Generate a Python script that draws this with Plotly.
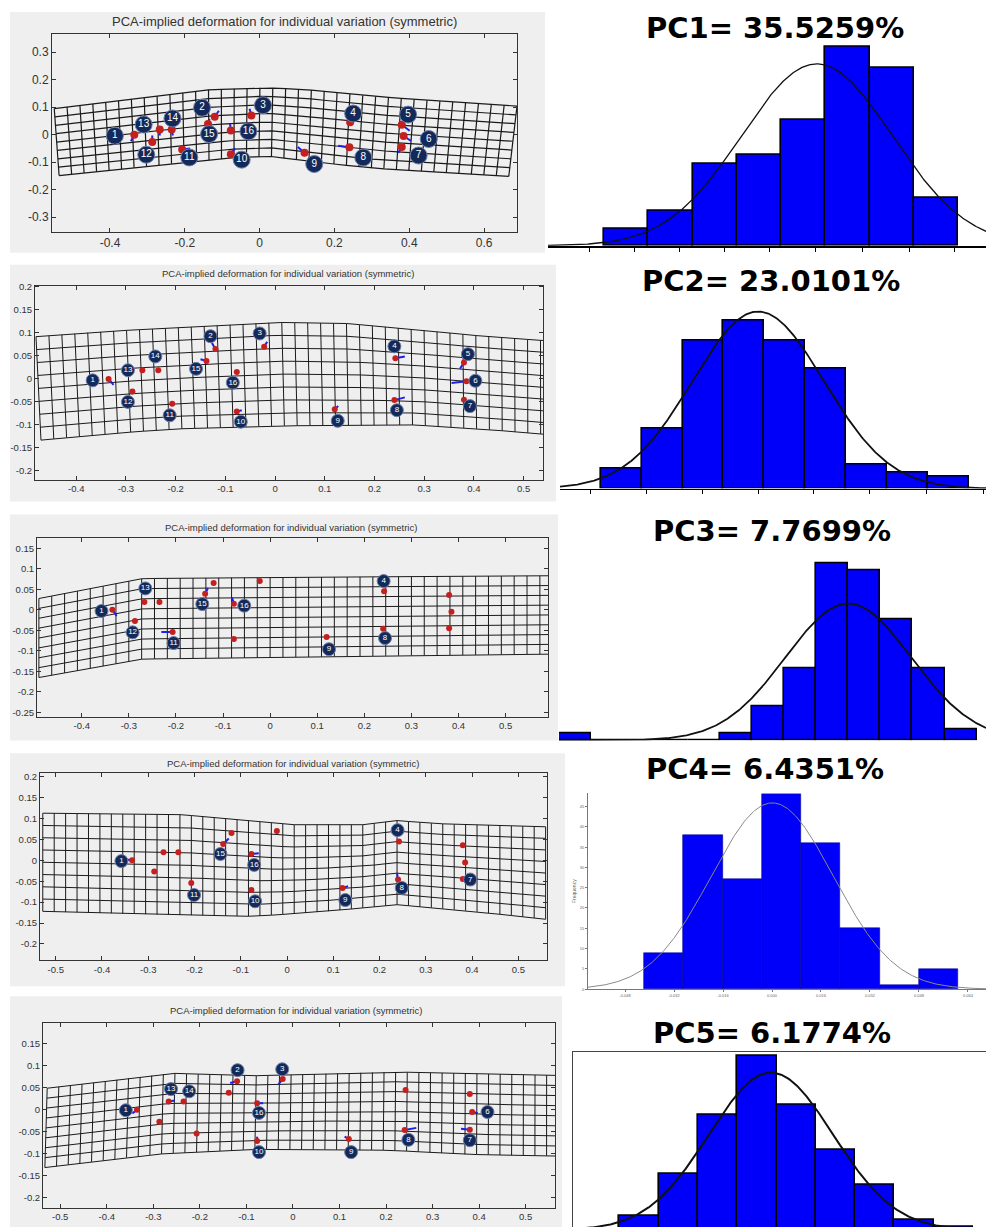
import numpy as np
import plotly.graph_objects as go

W, H = 986, 1229

# ---------------- shared data ----------------
panel_title = "PCA-implied deformation for individual variation (symmetric)"
pc_titles = ["PC1= 35.5259%", "PC2= 23.0101%", "PC3= 7.7699%", "PC4= 6.4351%", "PC5= 6.1774%"]

# consensus landmark configuration (16 landmarks)
landmark_ids = [str(i) for i in range(1, 17)]
landmark_x = [-0.335, -0.12, -0.022, 0.242, 0.38, 0.385, 0.38, 0.24, 0.12, -0.077, -0.207, -0.287, -0.267, -0.235, -0.138, -0.077]
landmark_y = [0.0, 0.065, 0.07, 0.045, 0.036, -0.005, -0.045, -0.046, -0.066, -0.071, -0.054, -0.027, 0.019, 0.019, 0.039, 0.015]

# ---------------- PC1 deformation panel ----------------
pc1_arrow_dx = [-0.009, 0.011, -0.005, 0, 0.021, 0.02, -0.009, -0.03, -0.018, 0.011, 0.021, 0, 0, 0.003, 0.004, -0.002]
pc1_arrow_dy = [-0.024, 0.022, 0.024, 0, -0.022, -0.018, -0.021, 0.006, 0.021, 0.022, 0.004, 0.024, -0.022, -0.022, 0.018, 0.024]
pc1_label_ids = [str(i) for i in range(1, 17)]
pc1_label_x = [-0.387, -0.154, 0.009, 0.250, 0.397, 0.452, 0.425, 0.277, 0.146, -0.048, -0.188, -0.303, -0.310, -0.233, -0.135, -0.030]
pc1_label_y = [-0.004, 0.098, 0.107, 0.077, 0.073, -0.016, -0.076, -0.083, -0.107, -0.091, -0.083, -0.073, 0.037, 0.059, 0.002, 0.012]
pc1_top_x = [-0.549, -0.14, 0.011, 0.119, 0.3, 0.48, 0.688]
pc1_top_y = [0.095, 0.163, 0.171, 0.165, 0.140, 0.122, 0.104]
pc1_bot_x = [-0.536, -0.242, -0.061, 0.029, 0.119, 0.3, 0.666]
pc1_bot_y = [-0.149, -0.107, -0.083, -0.079, -0.095, -0.122, -0.152]

# ---------------- PC2 deformation panel ----------------
pc2_arrow_dx = [0.010, -0.007, 0.006, 0.019, -0.008, -0.030, 0, 0.021, 0.007, 0.010, 0, 0, 0, 0, -0.012, 0]
pc2_arrow_dy = [-0.013, 0.013, 0.011, 0.004, -0.014, -0.004, 0, 0.006, 0.007, 0.003, 0, 0, 0, 0, 0.004, 0]
pc2_label_ids = [str(i) for i in range(1, 17)]
pc2_label_x = [-0.367, -0.130, -0.031, 0.240, 0.388, 0.403, 0.392, 0.245, 0.126, -0.069, -0.212, -0.296, -0.296, -0.241, -0.159, -0.085]
pc2_label_y = [-0.003, 0.093, 0.099, 0.071, 0.054, -0.004, -0.059, -0.068, -0.091, -0.093, -0.079, -0.050, 0.019, 0.049, 0.022, -0.008]
pc2_top_x = [-0.481, -0.346, -0.207, 0.0, 0.139, 0.278, 0.417, 0.56]
pc2_top_y = [0.092, 0.103, 0.111, 0.123, 0.121, 0.108, 0.093, 0.082]
pc2_bot_x = [-0.471, -0.346, -0.207, 0.0, 0.278, 0.417, 0.56]
pc2_bot_y = [-0.133, -0.12, -0.109, -0.102, -0.1, -0.109, -0.122]

# ---------------- PC3 deformation panel ----------------
pc3_arrow_dx = [0.009, 0, 0, 0, 0, 0, 0, 0, 0.003, 0, -0.024, 0, 0, 0, 0.006, -0.004]
pc3_arrow_dy = [-0.015, 0, 0, 0, 0, 0, 0, 0, 0.004, 0, 0, 0, 0, 0, 0.014, 0.015]
pc3_label_ids = ["1", "4", "8", "9", "11", "12", "13", "15", "16"]
pc3_label_x = [-0.358, 0.241, 0.244, 0.125, -0.205, -0.292, -0.265, -0.144, -0.055]
pc3_label_y = [-0.003, 0.070, -0.069, -0.096, -0.081, -0.055, 0.052, 0.014, 0.010]
pc3_top_x = [-0.491, -0.271, -0.119, 0.185, 0.6]
pc3_top_y = [0.0275, 0.076, 0.078, 0.080, 0.083]
pc3_bot_x = [-0.491, -0.271, -0.195, 0.033, 0.26, 0.6]
pc3_bot_y = [-0.165, -0.12, -0.119, -0.116, -0.112, -0.108]

# ---------------- PC4 deformation panel ----------------
pc4_arrow_dx = [-0.014, 0, 0, 0, 0, 0, 0, -0.002, 0.012, -0.006, 0, 0, 0, 0, 0.012, 0.016]
pc4_arrow_dy = [0.002, 0, 0, 0, 0, 0, 0, 0.014, 0.004, -0.004, 0, 0, 0, 0, 0.013, 0.002]
pc4_label_ids = ["1", "4", "7", "8", "9", "10", "11", "15", "16"]
pc4_label_x = [-0.358, 0.239, 0.396, 0.248, 0.126, -0.069, -0.201, -0.144, -0.071]
pc4_label_y = [-0.002, 0.072, -0.046, -0.066, -0.095, -0.098, -0.083, 0.015, -0.011]
pc4_top_x = [-0.528, -0.228, 0.008, 0.165, 0.236, 0.323, 0.559]
pc4_top_y = [0.1125, 0.109, 0.085, 0.085, 0.095, 0.0875, 0.08]
pc4_bot_x = [-0.528, -0.268, -0.071, 0.087, 0.236, 0.402, 0.559]
pc4_bot_y = [-0.122, -0.130, -0.134, -0.122, -0.106, -0.122, -0.141]

# ---------------- PC5 deformation panel ----------------
pc5_arrow_dx = [-0.01, -0.015, -0.009, 0, 0, 0.012, -0.019, 0.025, -0.009, 0, 0, 0, 0.013, 0, 0, 0.013]
pc5_arrow_dy = [-0.008, -0.004, -0.012, 0, 0, -0.002, 0.002, 0.005, 0.005, 0.01, 0, 0, 0.002, 0, 0, 0]
pc5_label_ids = ["1", "2", "3", "6", "7", "8", "9", "10", "13", "14", "16"]
pc5_label_x = [-0.359, -0.119, -0.023, 0.418, 0.38, 0.248, 0.125, -0.073, -0.262, -0.223, -0.073]
pc5_label_y = [-0.001, 0.090, 0.092, -0.005, -0.069, -0.068, -0.096, -0.096, 0.047, 0.042, -0.007]
pc5_top_x = [-0.528, -0.261, -0.092, 0.215, 0.57]
pc5_top_y = [0.049, 0.083, 0.077, 0.086, 0.078]
pc5_bot_x = [-0.533, -0.299, -0.092, 0.061, 0.215, 0.368, 0.57]
pc5_bot_y = [-0.131, -0.101, -0.09, -0.09, -0.092, -0.101, -0.105]

# ---------------- histograms of PC scores (counts per bin) ----------------
pc1_counts = [4, 8, 19, 21, 29, 46, 41, 11]
pc2_counts = [5, 15, 37, 42, 37, 30, 6, 4, 3]
pc3_counts = [2, 0, 0, 0, 0, 2, 9, 19, 47, 45, 32, 19, 3]
pc4_counts = [9, 38, 27, 48, 36, 15, 1, 5]
pc5_counts = [4, 16, 33, 50, 36, 23, 13, 3, 1]
# fitted normal (mean, sd) in bin units (PC4 in score units)
fit_mean = [4.31, 3.35, 8.5, 0.0001, 3.36]
fit_sd = [1.70, 1.61, 1.96, 0.01995, 1.58]
pc4_bin_left = -0.0418
pc4_bin_width = 0.01282
pc4_tick_vals = [-0.048, -0.032, -0.016, 0.0, 0.016, 0.032, 0.048, 0.064]
pc4_tick_text = ["-0.048", "-0.032", "-0.016", "0.000", "0.016", "0.032", "0.048", "0.064"]
pc4_freq_ticks = [0, 5, 10, 15, 20, 25, 30, 35, 40, 45]
pc1_hist_ticks = [-0.83, 0.2, 1.21, 2.23, 3.24, 4.29, 5.35, 6.4, 7.41]
pc2_hist_ticks = [-0.76, 0.62, 2.0, 3.35, 4.71, 6.08, 7.46, 8.85]


def fmt(v):
    s = ("%.2f" % v).rstrip("0").rstrip(".")
    return "0" if s in ("-0", "0") else s


def ticks(a, b, step):
    vals = list(np.round(np.arange(a, b + step / 2, step), 3))
    return vals, [fmt(v) for v in vals]


fig = go.Figure()
layout = {}
annotations = []
shapes = []


def nm(n):
    return "" if n == 1 else str(n)


def add_left(n, box, xr, yr, xt, yt, fs, top_x, top_y, bot_x, bot_y, ncols, nrows,
             adx, ady, lab_ids, lab_x, lab_y, circ, numfs, dot, title_xy, title_fs, lw):
    s = nm(n)
    x0, x1, y0, y1 = box
    # deformed grid
    xt_ = np.linspace(top_x[0], top_x[-1], ncols + 1)
    xb_ = np.linspace(bot_x[0], bot_x[-1], ncols + 1)
    yt_ = np.interp(xt_, top_x, top_y)
    yb_ = np.interp(xb_, bot_x, bot_y)
    gx, gy = [], []
    for i in range(ncols + 1):
        gx += [xb_[i], xt_[i], None]
        gy += [yb_[i], yt_[i], None]
    for j in range(nrows + 1):
        f = j / nrows
        gx += list(xb_ + f * (xt_ - xb_)) + [None]
        gy += list(yb_ + f * (yt_ - yb_)) + [None]
    fig.add_trace(go.Scatter(x=gx, y=gy, mode="lines", line=dict(color="#1a1a1a", width=lw),
                             hoverinfo="skip", xaxis="x" + s, yaxis="y" + s))
    # arrows
    ax_, ay_ = [], []
    for k in range(16):
        if adx[k] != 0 or ady[k] != 0:
            ax_ += [landmark_x[k], landmark_x[k] + adx[k], None]
            ay_ += [landmark_y[k], landmark_y[k] + ady[k], None]
    fig.add_trace(go.Scatter(x=ax_, y=ay_, mode="lines", line=dict(color="#1e1ee8", width=2),
                             hoverinfo="skip", xaxis="x" + s, yaxis="y" + s))
    # landmarks
    fig.add_trace(go.Scatter(x=landmark_x, y=landmark_y, mode="markers",
                             marker=dict(color="#c42020", size=dot), hoverinfo="skip",
                             xaxis="x" + s, yaxis="y" + s))
    # numbered labels
    fig.add_trace(go.Scatter(x=lab_x, y=lab_y, mode="markers+text", text=lab_ids,
                             textposition="middle center",
                             textfont=dict(color="white", size=numfs, family="Liberation Sans, Arial, sans-serif"),
                             marker=dict(color="#13295a", size=circ, line=dict(color="#6f7fa6", width=1)),
                             hoverinfo="skip", xaxis="x" + s, yaxis="y" + s))
    common = dict(ticks="inside", ticklen=4, tickcolor="#333", showline=True, linecolor="#333",
                  linewidth=1, mirror="allticks", showgrid=False, zeroline=False,
                  tickfont=dict(size=fs, color="#333", family="Liberation Sans, Arial, sans-serif"),
                  tickmode="array")
    layout["xaxis" + s] = dict(domain=[x0 / W, x1 / W], range=xr, anchor="y" + s,
                               tickvals=xt[0], ticktext=xt[1], **common)
    layout["yaxis" + s] = dict(domain=[1 - y1 / H, 1 - y0 / H], range=yr, anchor="x" + s,
                               tickvals=yt[0], ticktext=yt[1], **common)
    annotations.append(dict(text=panel_title, x=title_xy[0] / W, y=1 - title_xy[1] / H,
                            xref="paper", yref="paper", showarrow=False, xanchor="center",
                            yanchor="middle",
                            font=dict(size=title_fs, color="#333", family="Liberation Sans, Arial, sans-serif")))


def add_hist(n, xdom, ydom, xr, yr, counts, centers, bw, mu, sd, curve_color, curve_w, bar_line):
    s = nm(n)
    fig.add_trace(go.Bar(x=centers, y=counts, width=bw, marker=dict(color="#0000fa", line=bar_line),
                         hoverinfo="skip", xaxis="x" + s, yaxis="y" + s))
    xs = np.linspace(xr[0], xr[1], 400)
    N = sum(counts)
    ys = N * bw / (sd * np.sqrt(2 * np.pi)) * np.exp(-0.5 * ((xs - mu) / sd) ** 2)
    fig.add_trace(go.Scatter(x=xs, y=ys, mode="lines", line=dict(color=curve_color, width=curve_w),
                             hoverinfo="skip", xaxis="x" + s, yaxis="y" + s))
    layout["xaxis" + s] = dict(domain=[xdom[0] / W, xdom[1] / W], range=xr, anchor="y" + s,
                               showgrid=False, zeroline=False)
    layout["yaxis" + s] = dict(domain=[1 - ydom[0] / H, 1 - ydom[1] / H], range=yr, anchor="x" + s,
                               showgrid=False, zeroline=False)


# ---------------- left panels ----------------
gray = "#efefef"
for (gx0, gx1, gy0, gy1) in [(10, 545, 8, 250), (10, 556, 262, 500), (10, 558, 513, 740),
                             (10, 565, 753, 987), (10, 562, 997, 1229)]:
    shapes.append(dict(type="rect", xref="paper", yref="paper", x0=gx0 / W, x1=gx1 / W,
                       y0=1 - gy1 / H, y1=1 - gy0 / H, fillcolor=gray, line=dict(width=0), layer="below"))

add_left(1, (52, 517, 30, 229), [-0.555, 0.688], [-0.354, 0.367], ticks(-0.4, 0.6, 0.2), ticks(-0.3, 0.3, 0.1), 12,
         pc1_top_x, pc1_top_y, pc1_bot_x, pc1_bot_y, 36, 8, pc1_arrow_dx, pc1_arrow_dy,
         pc1_label_ids, pc1_label_x, pc1_label_y, 17, 10, 8, (284, 18), 13, 1.2)
add_left(3, (35, 543, 283, 478), [-0.483, 0.539], [-0.219, 0.203], ticks(-0.4, 0.5, 0.1), ticks(-0.2, 0.2, 0.05), 9.5,
         pc2_top_x, pc2_top_y, pc2_bot_x, pc2_bot_y, 40, 8, pc2_arrow_dx, pc2_arrow_dy,
         pc2_label_ids, pc2_label_x, pc2_label_y, 13, 8, 6, (288, 271), 9.5, 1)
add_left(5, (37, 548, 537, 716), [-0.495, 0.590], [-0.26, 0.174], ticks(-0.4, 0.5, 0.1), ticks(-0.25, 0.15, 0.05), 9.5,
         pc3_top_x, pc3_top_y, pc3_bot_x, pc3_bot_y, 40, 8, pc3_arrow_dx, pc3_arrow_dy,
         pc3_label_ids, pc3_label_x, pc3_label_y, 13, 8, 6, (291, 526), 9.5, 1)
add_left(7, (40, 547, 773, 961), [-0.534, 0.562], [-0.239, 0.208], ticks(-0.5, 0.5, 0.1), ticks(-0.2, 0.2, 0.05), 9.5,
         pc4_top_x, pc4_top_y, pc4_bot_x, pc4_bot_y, 44, 8, pc4_arrow_dx, pc4_arrow_dy,
         pc4_label_ids, pc4_label_x, pc4_label_y, 13, 8, 6, (293, 763), 9.5, 1)
add_left(9, (43, 555, 1024, 1210), [-0.537, 0.563], [-0.223, 0.197], ticks(-0.5, 0.5, 0.1), ticks(-0.2, 0.15, 0.05), 9.5,
         pc5_top_x, pc5_top_y, pc5_bot_x, pc5_bot_y, 44, 8, pc5_arrow_dx, pc5_arrow_dy,
         pc5_label_ids, pc5_label_x, pc5_label_y, 13, 8, 6, (296, 1011), 9.5, 1)

# ---------------- histograms ----------------
blk = dict(color="black", width=1.6)
add_hist(2, (548, 986), (243, 35), [-1.766, 8.133], [0, 47.8], pc1_counts, list(range(len(pc1_counts))), 1.0,
         fit_mean[0], fit_sd[0], "#111", 1.3, blk)
layout["xaxis2"].update(showline=True, linecolor="black", linewidth=1.5, ticks="outside", ticklen=4,
                        tickcolor="black", tickvals=pc1_hist_ticks, showticklabels=False)
layout["yaxis2"].update(visible=False)

add_hist(4, (560, 986), (487, 300), [-1.495, 8.92], [0, 46.6], pc2_counts, list(range(len(pc2_counts))), 1.0,
         fit_mean[1], fit_sd[1], "#111", 1.8, blk)
layout["xaxis4"].update(showline=True, linecolor="black", linewidth=1.3, ticks="outside", ticklen=4,
                        tickcolor="black", tickvals=pc2_hist_ticks, showticklabels=False)
layout["yaxis4"].update(visible=False)

add_hist(6, (559, 986), (740, 556), [-0.509, 12.79], [0, 48.5], pc3_counts, list(range(len(pc3_counts))), 1.0,
         fit_mean[2], fit_sd[2], "#111", 1.8, blk)
layout["xaxis6"].update(visible=False)
layout["yaxis6"].update(visible=False)

pc4_centers = [pc4_bin_left + pc4_bin_width * (i + 0.5) for i in range(len(pc4_counts))]
add_hist(8, (588, 986), (990, 793), [-0.0601, 0.0699], [0, 48.3], pc4_counts, pc4_centers, pc4_bin_width,
         fit_mean[3], fit_sd[3], "#8a8a8a", 1, dict(color="#000090", width=0.6))
layout["xaxis8"].update(showline=True, linecolor="#777", linewidth=1, ticks="outside", ticklen=2,
                        tickcolor="#777", tickmode="array", tickvals=pc4_tick_vals, ticktext=pc4_tick_text,
                        tickfont=dict(size=4, color="#666", family="Liberation Sans, Arial, sans-serif"))
layout["yaxis8"].update(showline=True, linecolor="#777", linewidth=1, ticks="outside", ticklen=2,
                        tickcolor="#777", tickmode="array", tickvals=pc4_freq_ticks,
                        ticktext=[str(v) for v in pc4_freq_ticks],
                        tickfont=dict(size=4, color="#666", family="Liberation Sans, Arial, sans-serif"),
                        title=dict(text="Frequency", standoff=2,
                                   font=dict(size=5, color="#666", family="Liberation Sans, Arial, sans-serif")))

add_hist(10, (573, 986), (1229, 1053), [-1.678, 8.83], [0.86, 51.16], pc5_counts, list(range(len(pc5_counts))), 1.0,
         fit_mean[4], fit_sd[4], "#111", 2, blk)
layout["xaxis10"].update(side="top", showline=True, linecolor="#444", linewidth=1, showticklabels=False, ticks="")
layout["yaxis10"].update(showline=True, linecolor="#444", linewidth=1, showticklabels=False, ticks="")

# PC titles
title_pos = [(775, 24), (771, 278), (772, 530), (765, 769), (772, 1034)]
for t, (cx, cy) in zip(pc_titles, title_pos):
    annotations.append(dict(text="<b>" + t + "</b>", x=cx / W, y=1 - cy / H, xref="paper", yref="paper",
                            showarrow=False, xanchor="center", yanchor="middle",
                            font=dict(size=29, color="black", family="DejaVu Sans, Verdana, sans-serif")))

fig.update_layout(width=W, height=H, margin=dict(l=0, r=0, t=0, b=0), paper_bgcolor="white",
                  plot_bgcolor="white", showlegend=False, bargap=0, shapes=shapes,
                  annotations=annotations, **layout)
fig.write_html("out.html", config={"displayModeBar": False},
               post_script="document.body.style.margin='0';document.body.style.overflow='hidden';")
